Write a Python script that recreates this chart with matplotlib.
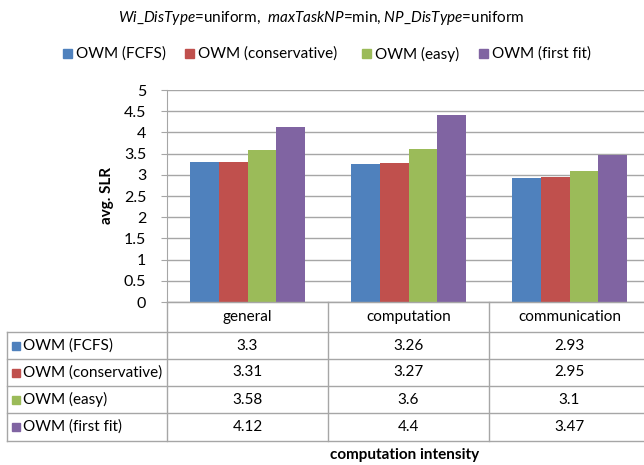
import numpy as np
import matplotlib
matplotlib.use('Agg')
import matplotlib.pyplot as plt
from matplotlib.lines import Line2D
from matplotlib.patches import Rectangle

# data
categories = ['general', 'computation', 'communication']
series_names = ['OWM (FCFS)', 'OWM (conservative)', 'OWM (easy)', 'OWM (first fit)']
fcfs = [3.3, 3.26, 2.93]
conservative = [3.31, 3.27, 2.95]
easy = [3.58, 3.6, 3.1]
first_fit = [4.12, 4.4, 3.47]
series_values = [fcfs, conservative, easy, first_fit]
colors = ['#4F81BD', '#C0504D', '#9BBB59', '#8064A2']
y_ticks = [0, 0.5, 1, 1.5, 2, 2.5, 3, 3.5, 4, 4.5, 5]

plt.rcParams['font.family'] = ['Lato', 'DejaVu Sans']
plt.rcParams['mathtext.fontset'] = 'custom'
plt.rcParams['mathtext.it'] = 'Lato:italic'
plt.rcParams['mathtext.rm'] = 'Lato'

W, H = 644, 465
fig = plt.figure(figsize=(W / 100, H / 100), dpi=100)

def fx(x):
    return x / W

def fy(y):
    return 1 - y / H

# layout in pixels
left, right = 167, 650
top, axis_y = 90, 302
row_edges = [302, 332, 359, 386, 413, 441]
table_left = 7
grid_col = '#A6A6A6'

ax = fig.add_axes([fx(left), fy(axis_y), fx(right - left), (axis_y - top) / H])
n = len(series_values)
width = 0.18
x = np.arange(len(categories))
for i, (vals, c) in enumerate(zip(series_values, colors)):
    ax.bar(x + (i - (n - 1) / 2) * width, vals, width, color=c, zorder=3)

ax.set_xlim(-0.5, len(categories) - 0.5)
ax.set_ylim(0, 5)
ax.set_yticks(y_ticks)
ax.set_yticklabels([('%g' % t) for t in y_ticks], fontsize=11.5)
ax.set_xticks([])
ax.yaxis.grid(True, color=grid_col, linewidth=1, zorder=0)
ax.tick_params(axis='y', length=4, color=grid_col, pad=11)
for side in ['top', 'right']:
    ax.spines[side].set_visible(False)
for side in ['left', 'bottom']:
    ax.spines[side].set_color(grid_col)
fig.text(fx(107), fy(196), 'avg. SLR', rotation=90, ha='center', va='center',
         fontsize=11, fontweight='bold')

# title
fig.text(fx(321), fy(18), r'$\it{Wi\_DisType}$=uniform,  $\it{maxTaskNP}$=min, $\it{NP\_DisType}$=uniform',
         ha='center', va='center', fontsize=11)

# legend row
leg_x = [63, 185, 362, 479]
for lx, name, c in zip(leg_x, series_names, colors):
    fig.patches.append(Rectangle((fx(lx), fy(58)), fx(9), 9 / H, transform=fig.transFigure,
                                 color=c, figure=fig))
    fig.text(fx(lx + 13), fy(54), name, ha='left', va='center', fontsize=11)

# data table under the axis
col_w = (right - left) / len(categories)
col_edges = [left + k * col_w for k in range(len(categories) + 1)]

def hline(y, x0, x1):
    fig.lines.append(Line2D([fx(x0), fx(x1)], [fy(y), fy(y)], transform=fig.transFigure,
                            color=grid_col, linewidth=1))

def vline(xp, y0, y1):
    fig.lines.append(Line2D([fx(xp), fx(xp)], [fy(y0), fy(y1)], transform=fig.transFigure,
                            color=grid_col, linewidth=1))

for k, y in enumerate(row_edges):
    hline(y, left if k == 0 else table_left, right)
for xp in col_edges[:-1]:
    vline(xp, axis_y, row_edges[-1])
vline(table_left, row_edges[1], row_edges[-1])

for j, cat in enumerate(categories):
    cx = (col_edges[j] + col_edges[j + 1]) / 2
    fig.text(fx(cx), fy((row_edges[0] + row_edges[1]) / 2), cat, ha='center', va='center', fontsize=11)

for i, (name, vals, c) in enumerate(zip(series_names, series_values, colors)):
    cy = (row_edges[i + 1] + row_edges[i + 2]) / 2
    fig.patches.append(Rectangle((fx(table_left + 5), fy(cy + 4)), fx(8), 8 / H,
                                 transform=fig.transFigure, color=c, figure=fig))
    fig.text(fx(table_left + 16), fy(cy), name, ha='left', va='center', fontsize=11)
    for j, v in enumerate(vals):
        cx = (col_edges[j] + col_edges[j + 1]) / 2
        fig.text(fx(cx), fy(cy), '%g' % v, ha='center', va='center', fontsize=11)

fig.text(fx(405), fy(455), 'computation intensity', ha='center', va='center',
         fontsize=11, fontweight='bold')

fig.savefig('out.png', dpi=100)
